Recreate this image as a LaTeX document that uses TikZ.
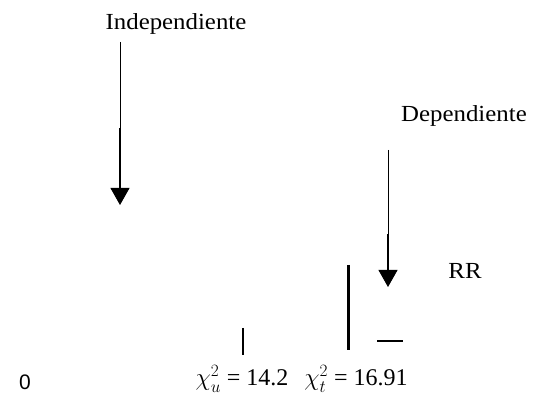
\documentclass[tikz,border=0pt]{standalone}
\usepackage{fontspec}
\setmainfont{Liberation Serif}
\newfontfamily\zerofont{Liberation Sans}
\usetikzlibrary{arrows.meta}
\begin{document}
\begin{tikzpicture}[x=1pt,y=-1pt,
  lbl/.style={font=\fontsize{23}{26}\selectfont, inner sep=0pt},
  eq/.style={font=\fontsize{24}{27}\selectfont, inner sep=0pt, anchor=base},
  arr/.style={line width=0.9pt, -{Triangle[length=17pt,width=19pt]}},
  thickseg/.style={line width=2.2pt},
  mark1/.style={line width=1.2pt}]
\useasboundingbox (0,0) rectangle (539,395);
% labels
\node[lbl] (ind) at (176,24) {\scalebox{1.08}[1]{Independiente}};
\node[lbl] (dep) at (464,116) {\scalebox{1.08}[1]{Dependiente}};
\node[lbl] (rr) at (465,271) {\scalebox{1.08}[1]{RR}};
\node[inner sep=0pt, font=\zerofont\fontsize{21}{24}\selectfont] (zero) at (25,382) {0};
\node[eq] (chiu) at (242,386) {$\chi^2_u$ = 14.2};
\node[eq] (chit) at (356,386) {$\chi^2_t$ = 16.91};
% arrow 1
\coordinate (a1s) at (120,42);
\coordinate (a1m) at (120,128);
\coordinate (a1n) at (120,166);
\coordinate (a1e) at (120,205);
\draw[arr] (a1s) -- (a1e);
\draw[line width=1.6pt] (a1m) -- (a1n);
\draw[thickseg] (a1n) -- (120,190);
% arrow 2
\coordinate (a2s) at (388,150);
\coordinate (a2m) at (388,234);
\coordinate (a2e) at (388,287);
\draw[arr] (a2s) -- (a2e);
\draw[thickseg] (a2m) -- (388,272);
% critical value line
\coordinate (cvt) at (348,265);
\coordinate (cvb) at (348,350);
\draw[line width=3pt] (cvt) -- (cvb);
% small tick
\coordinate (tkt) at (243,328);
\coordinate (tkb) at (243,355);
\draw[mark1] (tkt) -- (tkb);
% small dash
\coordinate (dsl) at (377,341);
\coordinate (dsr) at (403,341);
\draw[mark1] (dsl) -- (dsr);
\end{tikzpicture}
\end{document}
